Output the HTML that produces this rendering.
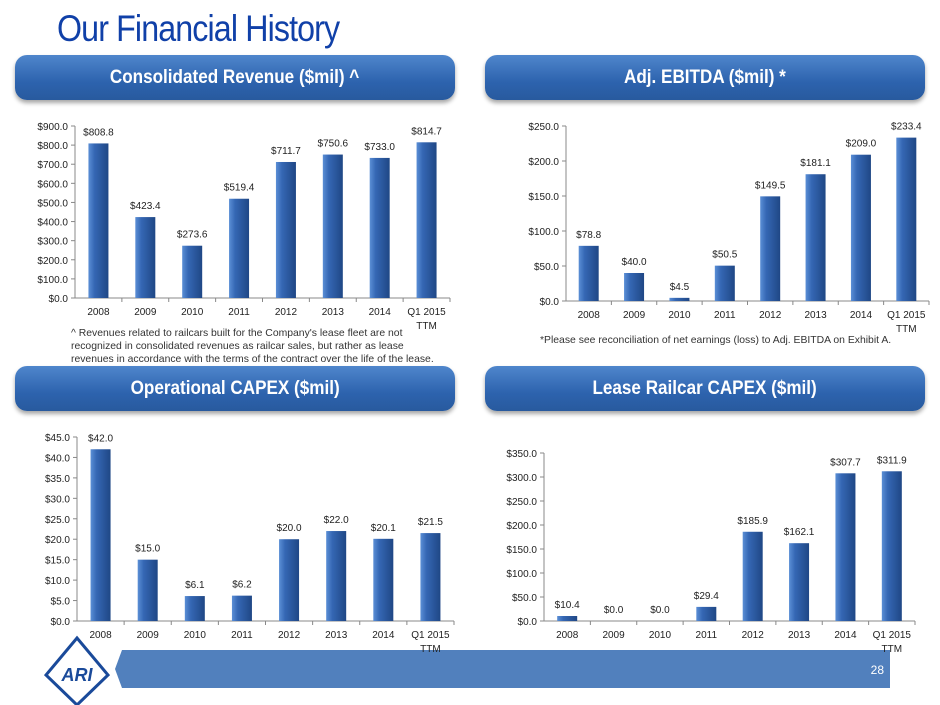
<!DOCTYPE html>
<html><head><meta charset="utf-8"><style>
body{margin:0;width:940px;height:705px;background:#fff;position:relative;overflow:hidden;font-family:"Liberation Sans",sans-serif}
.title{position:absolute;left:57px;top:8px;font-size:37px;color:#1040a8;letter-spacing:-1px;transform:scaleX(0.87);transform-origin:0 0;white-space:nowrap}
.pill{position:absolute;height:45px;border-radius:12px;background:linear-gradient(#4f86cc,#2d63ae 60%,#285a9e);box-shadow:0 3px 4px rgba(0,0,0,.35);color:#fff;font-weight:bold;font-size:19px;text-align:center;line-height:45px}
.pill span{display:inline-block;transform:scaleX(0.9)}
.note{position:absolute;font-size:10.4px;color:#333;line-height:13px}
svg text{font-family:"Liberation Sans",sans-serif;font-size:10px;fill:#222}
</style></head><body>
<div class="title">Our Financial History</div>
<div class="pill" style="left:15px;top:55px;width:440px"><span>Consolidated Revenue ($mil) ^</span></div>
<div class="pill" style="left:485px;top:55px;width:440px"><span>Adj. EBITDA ($mil) *</span></div>
<div class="pill" style="left:15px;top:366px;width:440px"><span>Operational CAPEX ($mil)</span></div>
<div class="pill" style="left:485px;top:366px;width:440px"><span>Lease Railcar CAPEX ($mil)</span></div>
<div class="note" style="left:71px;top:327px;width:372px">^ Revenues related to railcars built for the Company's lease fleet are not<br>recognized in consolidated revenues as railcar sales, but rather as lease<br>revenues in accordance with the terms of the contract over the life of the lease.</div>
<div class="note" style="left:540px;top:334px">*Please see reconciliation of net earnings (loss) to Adj. EBITDA on Exhibit A.</div>
<svg width="940" height="705" style="position:absolute;left:0;top:0" id="s">
<defs><linearGradient id="g" x1="0" x2="1"><stop offset="0" stop-color="#5b8fd6"/><stop offset=".3" stop-color="#3567b4"/><stop offset="1" stop-color="#1f4785"/></linearGradient></defs>
<polygon points="122,650 890,650 890,688 122,688 115,669" fill="#5180bd"/>
<text x="884" y="674" text-anchor="end" style="fill:#fff;font-size:12px">28</text>
<g>
<polygon points="77,638 108,675 77,705 46,675" fill="#fff" stroke="#1a4a9a" stroke-width="3"/>
<text x="77" y="681" text-anchor="middle" style="fill:#1a4a9a;font-size:18px;font-weight:bold;font-style:italic">ARI</text>
</g>
</svg>
<script>
const categories=["2008","2009","2010","2011","2012","2013","2014","Q1 2015"];
const revenue=[808.8,423.4,273.6,519.4,711.7,750.6,733.0,814.7];
const ebitda=[78.8,40.0,4.5,50.5,149.5,181.1,209.0,233.4];
const opCapex=[42.0,15.0,6.1,6.2,20.0,22.0,20.1,21.5];
const leaseCapex=[10.4,0.0,0.0,29.4,185.9,162.1,307.7,311.9];
const revTicks=[0,100,200,300,400,500,600,700,800,900];
const ebitdaTicks=[0,50,100,150,200,250];
const opTicks=[0,5,10,15,20,25,30,35,40,45];
const leaseTicks=[0,50,100,150,200,250,300,350];
const NS="http://www.w3.org/2000/svg",s=document.getElementById('s');
function mk(t,a,p){const e=document.createElementNS(NS,t);for(const k in a)e.setAttribute(k,a[k]);(p||s).appendChild(e);return e;}
function chart(name,vals,ticks,x0,x1,yTop,yBot){
 const g=mk('g',{});
 
 
 const max=ticks[ticks.length-1],y=v=>yBot-(v/max)*(yBot-yTop),bw=(x1-x0)/categories.length;
 mk('line',{x1:x0,y1:yTop,x2:x0,y2:yBot,stroke:'#888'},g);
 mk('line',{x1:x0,y1:yBot,x2:x1,y2:yBot,stroke:'#888'},g);
 ticks.forEach(t=>{mk('line',{x1:x0-4,y1:y(t),x2:x0,y2:y(t),stroke:'#888'},g);
  const tx=mk('text',{x:x0-7,y:y(t)+4,'text-anchor':'end'},g);tx.textContent='$'+t.toFixed(1);
  
  });
 categories.forEach((c,i)=>{const cx=x0+bw*(i+.5);
  mk('line',{x1:x0+bw*(i+1),y1:yBot,x2:x0+bw*(i+1),y2:yBot+4,stroke:'#888'},g);
  const r=mk('rect',{x:cx-10,y:y(vals[i]),width:20,height:yBot-y(vals[i]),fill:'url(#g)'},g);
  
  
  const lb=mk('text',{x:cx,y:y(vals[i])-8,'text-anchor':'middle'},g);lb.textContent='$'+vals[i].toFixed(1);
  
  
  const xl=mk('text',{x:cx,y:yBot+17,'text-anchor':'middle'},g);xl.textContent=c;
  
  
  if(i==categories.length-1){const t2=mk('text',{x:cx,y:yBot+31,'text-anchor':'middle'},g);t2.textContent='TTM';
   
   }
 });
}
chart('revenue-chart',revenue,revTicks,75,450,126,298);
chart('ebitda-chart',ebitda,ebitdaTicks,566,929,126,301);
chart('operational-capex-chart',opCapex,opTicks,77,454,437,621);
chart('lease-capex-chart',leaseCapex,leaseTicks,544,915,453,621);
</script>
</body></html>
